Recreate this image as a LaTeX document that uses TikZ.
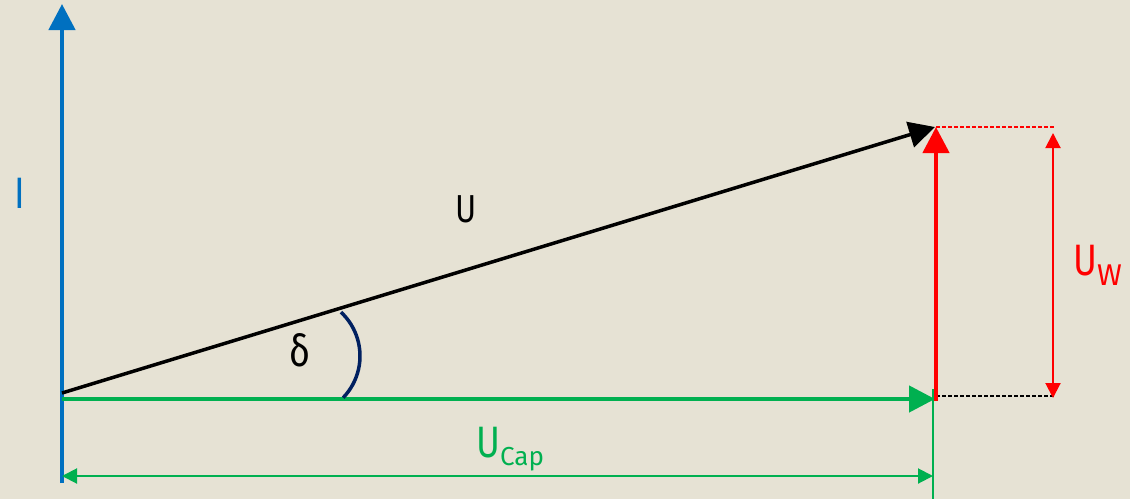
\documentclass[tikz,border=0pt]{standalone}
\usepackage{fontspec}
\setmainfont{Fira Sans}[FakeStretch=0.82]
\newfontfamily\subfuente{Fira Sans}
\usetikzlibrary{arrows.meta}
\definecolor{fondoPapel}{HTML}{E6E2D4}
\definecolor{azulI}{HTML}{0070C0}
\definecolor{verdeCap}{HTML}{00B050}
\definecolor{rojoW}{HTML}{FF0000}
\definecolor{azulArco}{HTML}{002060}

\begin{document}
\begin{tikzpicture}[x=1pt, y=-1pt,
        vec/.style={line width=4.5pt, -{Triangle[length=26pt, width=26pt]}},
        cota/.style={line width=2pt, {Triangle[length=15pt, width=15pt]}-{Triangle[length=15pt, width=15pt]}},
        aux/.style={line width=1.5pt, dash pattern=on 4pt off 2pt},
        etiq/.style={inner sep=0pt, font=\fontsize{44}{50}\selectfont}
    ]
        % fondo y margenes
        \fill[fondoPapel] (0,0) rectangle (1130,499);
        \useasboundingbox (0,0) rectangle (1130,499);

        % puntos del diagrama
        \coordinate (Ibot) at (62,483);
        \coordinate (Itop) at (62,4);
        \coordinate (Uo) at (62,393);
        \coordinate (Ut) at (935,127);
        \coordinate (Co) at (62,399);
        \coordinate (Ct) at (935,399);
        \coordinate (Wb) at (936,401);
        \coordinate (Wt) at (936,127);
        \coordinate (Wr) at (1055,127);
        \coordinate (Bl) at (936,396);
        \coordinate (Br) at (1055,396);
        \coordinate (Dt) at (1053,133);
        \coordinate (Db) at (1053,398);
        \coordinate (Gt) at (933,389);
        \coordinate (Gb) at (933,499);
        \coordinate (Dl) at (62,476);
        \coordinate (Dr) at (933,476);
        \coordinate (arcC) at (300,356);

        % lineas auxiliares
        \draw[aux, rojoW] (Wt) -- (Wr);
        \draw[aux, black] (Bl) -- (Br);
        \draw[verdeCap, line width=2pt] (Gt) -- (Gb);

        % vectores
        \draw[vec, azulI] (Ibot) -- (Itop);
        \draw[vec, verdeCap] (Co) -- (Ct);
        \draw[vec, rojoW] (Wb) -- (Wt);
        \draw[vec, black, line width=3.5pt] (Uo) -- (Ut);

        % cotas
        \draw[cota, rojoW] (Dt) -- (Db);
        \draw[cota, verdeCap] (Dl) -- (Dr);

        % angulo
        \draw[azulArco, line width=3.5pt] ([shift={(-47:60)}]arcC) arc[start angle=-47, end angle=44, radius=60];

        % etiquetas
        \node[etiq, azulI] (lblI) at (20,193) {I};
        \node[etiq, font=\fontsize{39}{44}\selectfont] (lblU) at (466,209) {U};
        \node[etiq] (lblDelta) at (300,350) {δ};
        \node[etiq, rojoW, anchor=base west] (lblW) at (1073,275) {U\raisebox{-10pt}{\subfuente\fontsize{30}{30}\selectfont W}};
        \node[etiq, verdeCap, anchor=base west] (lblCap) at (476,457) {U\raisebox{-8pt}{\subfuente\fontsize{26}{26}\selectfont Cap}};
    \end{tikzpicture}
\end{document}
